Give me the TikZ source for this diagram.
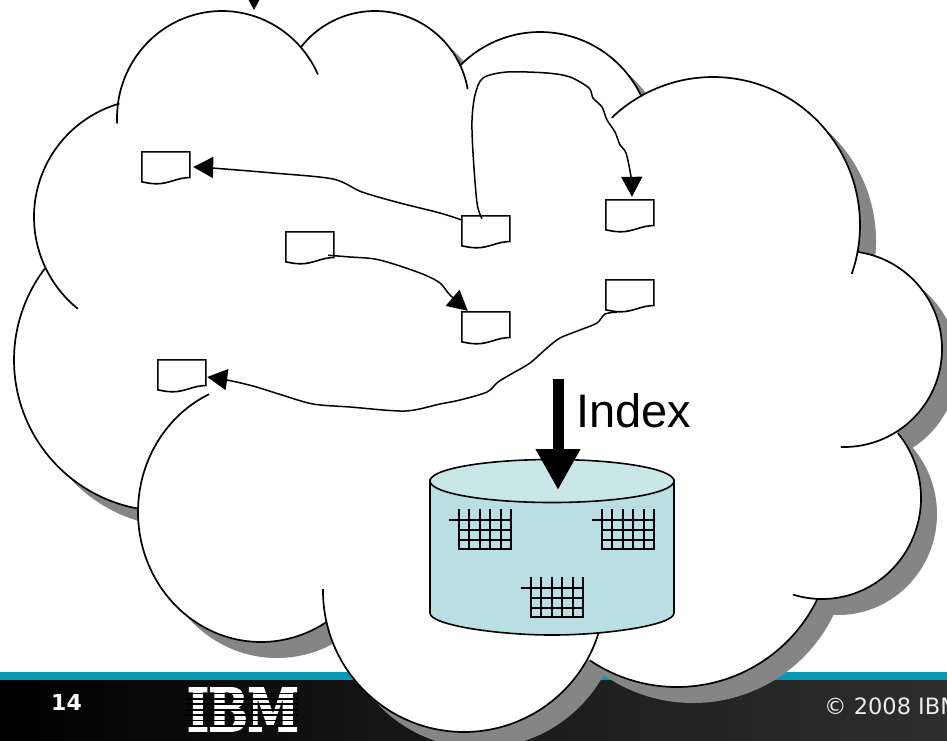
\documentclass[tikz,border=0pt]{standalone}
\usepackage{fontspec}
\setmainfont{Liberation Sans}
\newfontfamily\footfont{DejaVu Sans}
\newfontfamily\logofont[BoldFeatures={FakeBold=3}]{DejaVu Serif}
\usetikzlibrary{arrows.meta}
\definecolor{shadowgray}{HTML}{858585}
\definecolor{teal}{HTML}{0899B7}
\definecolor{cylbody}{HTML}{BADFE3}
\definecolor{cyltop}{HTML}{C9E6E9}
% lobes: centre x / centre y / radius x / radius y / start angle / end angle
\def\lobelist{222/118/105/107/-183/-24,
  375/105/94/94/-142.5/-9.8,
  540/144/112/112/-135/-25.2,
  713/225/147/148/-133.6/19.3,
  844/349/98/98/-82/91.8,
  822/498/99/101/-40/107,
  677/531/156/156/25.9/124,
  464/591/141/141/16.8/180.8,
  261/512/123/130/57.5/245,
  165/360/151/151/100/217.3,
  152/217/118/118/129/254}
\def\cloudcore{(222,118) -- (375,105) -- (540,144) -- (713,225) -- (844,349) -- (822,498) -- (677,531) -- (464,591) -- (261,512) -- (165,360) -- (152,217) -- cycle}
\newcommand\docnode[3]{%
  \node[docbox] (#1) at (#2+24,#3+15) {};
  \begin{scope}[shift={(#1.north west)}]
    \draw[docline] (0,0) -- (48,0) -- (48,25.7) .. controls (36,25.7) and (27,32) .. (15,32) .. controls (9,32) and (5,31) .. (0,30) -- cycle;
  \end{scope}}
\newcommand\gridmark[2]{%
  \begin{scope}[shift={(#1,#2)}]
    \foreach \gx in {0,10.4,20.8,31.2,41.6,52} \draw[gridline] (\gx,0) -- (\gx,40);
    \draw[gridline] (-10,10.5) -- (52,10.5);
    \draw[gridline] (0,21) -- (52,21);
    \draw[gridline] (0,30.5) -- (52,30.5);
    \draw[gridline] (-1,40) -- (53,40);
  \end{scope}}
\tikzset{
  docbox/.style={rectangle,inner sep=0pt,minimum width=48pt,minimum height=30pt},
  docline/.style={draw=black,fill=white,line width=1.6pt},
  gridline/.style={draw=black,line width=2pt},
  cloudline/.style={draw=black,line width=1.7pt},
  connector/.style={draw=black,line width=1.5pt,-{Triangle[length=20pt,width=21pt]}},
  bigarrow/.style={draw=black,line width=11pt,-{Triangle[length=41pt,width=42pt]}}
}
\begin{document}
\begin{tikzpicture}[x=1pt,y=-1pt]
\useasboundingbox (0,0) rectangle (947,740);
\clip (0,0) rectangle (947,740);
% footer
\shade[left color=black,right color=black!82,middle color=black!90] (0,680) rectangle (947,740);
\fill[teal] (0,672) rectangle (947,680);
\node[anchor=base west,inner sep=0pt,text=white,font=\footfont\bfseries\fontsize{22}{24}\selectfont] (pageno) at (51,710) {14};
\node[anchor=base west,inner sep=0pt,text=white!92!black,font=\footfont\fontsize{22.5}{25}\selectfont] (copy) at (824,714) {© 2008 IBM};
\node[anchor=base west,inner sep=0pt,text=white,font=\logofont\bfseries\fontsize{59}{60}\selectfont] (logo) at (187,731) {\scalebox{0.78}[1]{IBM}};
\foreach \sy in {1,...,7} \fill[black] (185,688+\sy*5.4-0.9) rectangle (298,688+\sy*5.4+0.9);
% cloud shadow
\begin{scope}[shift={(16,16)}]
  \fill[shadowgray] \cloudcore;
  \foreach \cx/\cy/\rx/\ry/\ta/\tb in \lobelist \fill[shadowgray] (\cx,\cy) ellipse[x radius=\rx,y radius=\ry];
\end{scope}
% cloud
\fill[white] \cloudcore;
\foreach \cx/\cy/\rx/\ry/\ta/\tb in \lobelist \fill[white] (\cx,\cy) ellipse[x radius=\rx,y radius=\ry];
\foreach \cx/\cy/\rx/\ry/\ta/\tb in \lobelist \draw[cloudline] plot[domain=\ta:\tb,samples=48,smooth] ({\cx+\rx*cos(\x)},{\cy+\ry*sin(\x)});
% documents
\docnode{d1}{142}{152}
\docnode{d2}{462}{216}
\docnode{d3}{606}{200}
\docnode{d4}{286}{232}
\docnode{d5}{462}{312}
\docnode{d6}{606}{280}
\docnode{d7}{158}{360}
% connectors
\draw[connector] plot[smooth] coordinates {([yshift=11pt]d2.west) (440,213) (400,203) (362,192) (333,179) (273,173) (212,168) ([xshift=3pt]d1.east)};
\draw[connector] plot[smooth] coordinates {([xshift=-4pt,yshift=-3pt]d2.north) (477,203) (473,153) (472,120) (475,95) (483,78) (507,72) (547,73) (570,77) (589,88) (593,98) (602,107) (607,120) (615,132) (620,145) (626,153) (631,177) ([xshift=2pt,yshift=3pt]d3.north)};
\draw[connector] plot[smooth] coordinates {([xshift=-6pt,yshift=7pt]d4.south east) (350,257) (375,259) (400,266) (425,275) (440,283) (450,295) ([xshift=6pt,yshift=1pt]d5.north west)};
\draw[connector] plot[smooth] coordinates {([xshift=-13pt,yshift=-2pt]d6.south) (605,314) (597,323) (580,330) (560,338) (547,348) (530,363) (513,373) (498,382) (487,392) (460,400) (440,404) (405,411) (350,407) (313,404) (282,395) (253,386) (227,380) ([xshift=1pt,yshift=-2pt]d7.east)};
% database
\node[rectangle,inner sep=0pt,minimum width=244pt,minimum height=176pt] (db) at (552,547) {};
\filldraw[fill=cylbody,draw=black,line width=1.6pt] (430,480) -- (430,613) .. controls (430,625) and (497,635) .. (552,635) .. controls (607,635) and (674,625) .. (674,613) -- (674,480) -- cycle;
\filldraw[fill=cyltop,draw=black,line width=1.6pt] (430,481) .. controls (430,469) and (485,459.5) .. (552,459.5) .. controls (619,459.5) and (674,469) .. (674,481) .. controls (674,493) and (619,502.5) .. (552,502.5) .. controls (485,502.5) and (430,493) .. (430,481) -- cycle;
\gridmark{459}{509}
\gridmark{602}{509}
\gridmark{531}{577}
% index arrow
\coordinate (indexsrc) at (558,379);
\coordinate (indextip) at (558,490);
\draw[bigarrow] (indexsrc) -- (indextip);
\node[anchor=base west,inner sep=0pt,font=\fontsize{47}{56}\selectfont] (indexlabel) at (576,427) {Index};
% incoming arrow at top
\coordinate (topsrc) at (254,-40);
\coordinate (toptip) at (254,10);
\draw[connector] (topsrc) -- (toptip);
\end{tikzpicture}
\end{document}
